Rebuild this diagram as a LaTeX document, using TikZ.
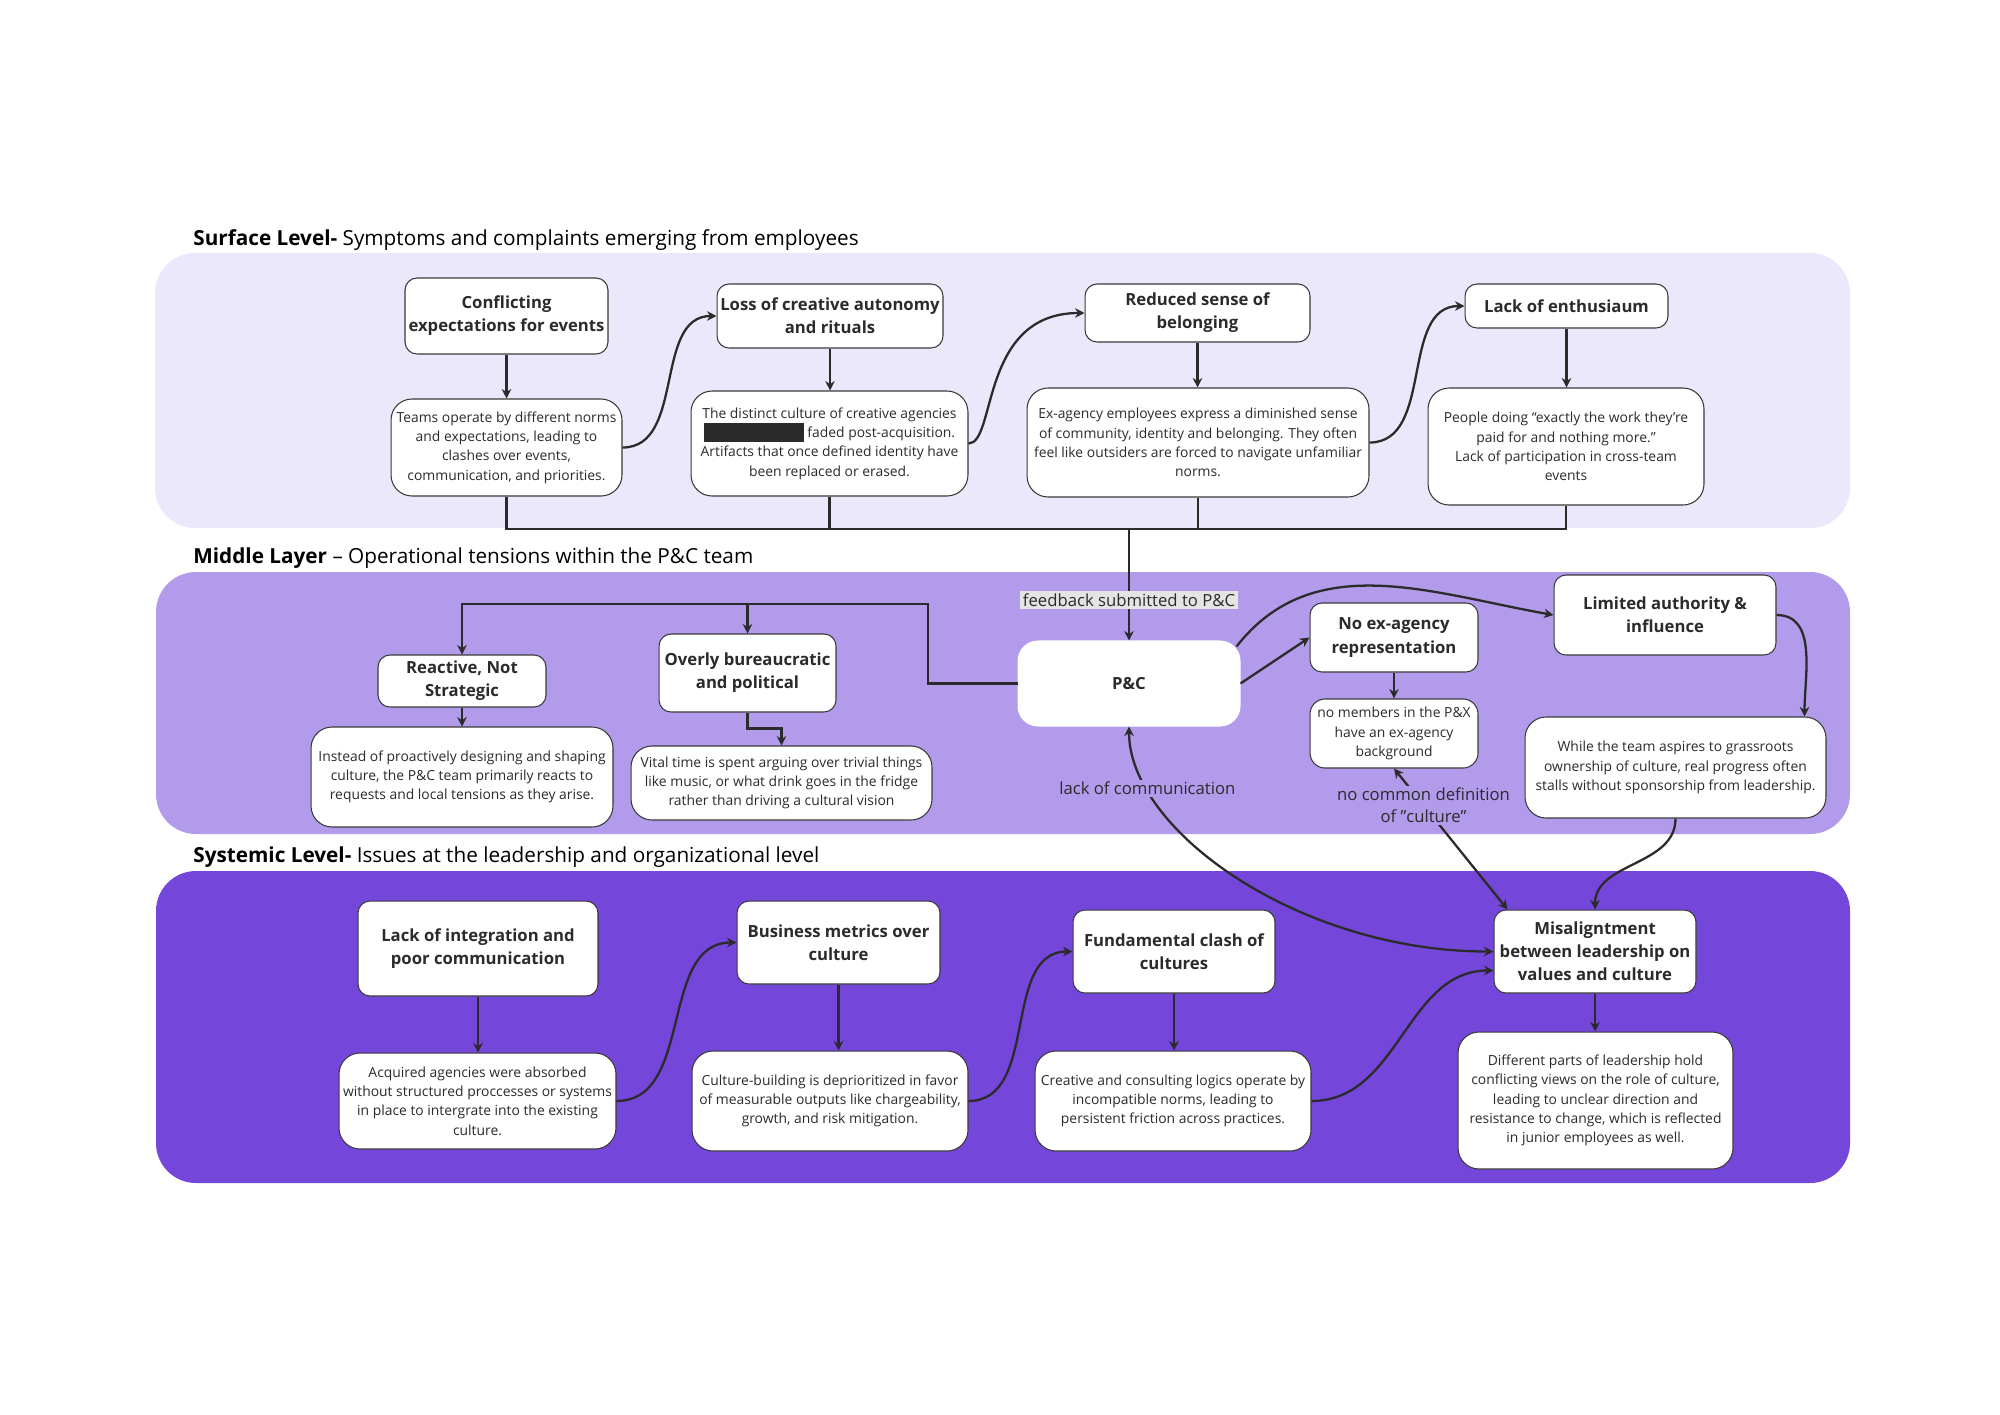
\documentclass[tikz,border=0pt]{standalone}
\usepackage{fontspec}
\setmainfont{Open Sans}
\usetikzlibrary{arrows.meta}
\definecolor{surf}{HTML}{ECE8FB}
\definecolor{mid}{HTML}{B19BEA}
\definecolor{sys}{HTML}{7546DA}
\definecolor{ink}{HTML}{2B2B2B}
\definecolor{edge}{HTML}{3A3A3A}
\definecolor{fbgray}{HTML}{E4E4E4}
\tikzset{
  sz/.style 2 args={minimum width=#1cm, minimum height=#2cm},
  head/.style={draw=edge, line width=0.6pt, fill=white, rounded corners=0.24cm, align=center, inner sep=1pt, text=ink, font=\bfseries\fontsize{9.5}{13.2}\selectfont},
  body/.style={draw=edge, line width=0.6pt, fill=white, rounded corners=0.42cm, align=center, inner sep=1pt, text=ink, font=\fontsize{7.9}{11}\selectfont},
  link/.style={draw=ink, line width=1.3pt, -{Stealth[length=1.9mm, width=1.9mm]}},
  twoway/.style={link, {Stealth[length=1.9mm, width=1.9mm]}-{Stealth[length=1.9mm, width=1.9mm]}},
  wire/.style={draw=ink, line width=1.3pt},
  layer/.style={rounded corners=0.8cm},
  heading/.style={anchor=base west, inner sep=0pt, text=black, font=\fontsize{11.8}{14}\selectfont},
  note/.style={align=center, inner sep=1pt, text=ink, font=\fontsize{9.5}{12.8}\selectfont}
}
\newcommand{\redact}{\textcolor{ink}{\rule[-0.3em]{2cm}{0.38cm}}}

\begin{document}
\begin{tikzpicture}[x=0.02cm, y=-0.02cm]
  \useasboundingbox (0,0) rectangle (2000,1414);
  \fill[surf, layer] (155,253) rectangle (1850,528);
  \fill[mid, layer] (156,572) rectangle (1850,834);
  \fill[sys, layer] (156,871) rectangle (1850,1183);
  \node[heading] (surftitle) at (193,245) {\textbf{Surface Level-} Symptoms and complaints emerging from employees};
  \node[heading] (midtitle) at (193,563) {\textbf{Middle Layer} – Operational tensions within the P\&C team};
  \node[heading] (systitle) at (193,862) {\textbf{Systemic Level-} Issues at the leadership and organizational level};

  \node[head, sz={4.06}{1.52}] (a1) at (506.5,316) {Conflicting\\expectations for events};
  \node[body, sz={4.62}{1.94}] (a2) at (506.5,447.5) {Teams operate by different norms\\and expectations, leading to\\clashes over events,\\communication, and priorities.};
  \node[head, sz={4.52}{1.28}] (b1) at (830,316) {Loss of creative autonomy\\and rituals};
  \node[body, sz={5.54}{2.1}] (b2) at (829.5,443.5) {The distinct culture of creative agencies\\\redact\ faded post-acquisition.\\Artifacts that once defined identity have\\been replaced or erased.};
  \node[head, sz={4.5}{1.16}] (c1) at (1197.5,313) {Reduced sense of\\belonging};
  \node[body, sz={6.84}{2.18}] (c2) at (1198,442.5) {Ex-agency employees express a diminished sense\\of community, identity and belonging. They often\\feel like outsiders are forced to navigate unfamiliar\\norms.};
  \node[head, sz={4.06}{0.88}] (d1) at (1566.5,306) {Lack of enthusiaum};
  \node[body, sz={5.52}{2.34}] (d2) at (1566,446.5) {People doing “exactly the work they’re\\paid for and nothing more.”\\Lack of participation in cross-team\\events};

  \node[head, draw=white, rounded corners=0.4cm, sz={4.44}{1.7}] (pc) at (1129,683.5) {P\&C};
  \node[head, sz={3.36}{1.04}] (r1) at (462,681) {Reactive, Not\\Strategic};
  \node[body, sz={6.04}{2.0}] (r2) at (462,777) {Instead of proactively designing and shaping\\culture, the P\&C team primarily reacts to\\requests and local tensions as they arise.};
  \node[head, sz={3.54}{1.56}] (o1) at (747.5,673) {Overly bureaucratic\\and political};
  \node[body, sz={6.02}{1.48}] (o2) at (781.5,783) {Vital time is spent arguing over trivial things\\like music, or what drink goes in the fridge\\rather than driving a cultural vision};
  \node[head, sz={3.36}{1.38}] (n1) at (1394,637.5) {No ex-agency\\representation};
  \node[body, rounded corners=0.3cm, sz={3.36}{1.38}] (n2) at (1394,733.5) {no members in the P\&X\\have an ex-agency\\background};
  \node[head, sz={4.44}{1.6}] (l1) at (1665,615) {Limited authority \&\\influence};
  \node[body, sz={6.02}{2.02}] (l2) at (1675.5,767.5) {While the team aspires to grassroots\\ownership of culture, real progress often\\stalls without sponsorship from leadership.};

  \node[head, sz={4.8}{1.9}] (s1) at (478,948.5) {Lack of integration and\\poor communication};
  \node[body, sz={5.54}{1.92}] (s2) at (477.5,1101) {Acquired agencies were absorbed\\without structured proccesses or systems\\in place to intergrate into the existing\\culture.};
  \node[head, sz={4.06}{1.66}] (t1) at (838.5,942.5) {Business metrics over\\culture};
  \node[body, sz={5.52}{2.0}] (t2) at (830,1101) {Culture-building is deprioritized in favor\\of measurable outputs like chargeability,\\growth, and risk mitigation.};
  \node[head, sz={4.04}{1.66}] (u1) at (1174,951.5) {Fundamental clash of\\cultures};
  \node[body, sz={5.52}{2.0}] (u2) at (1173,1101) {Creative and consulting logics operate by\\incompatible norms, leading to\\persistent friction across practices.};
  \node[head, sz={4.04}{1.66}] (m1) at (1595,951.5) {Misaligntment\\between leadership on\\values and culture};
  \node[body, sz={5.5}{2.74}] (m2) at (1595.5,1100.5) {Different parts of leadership hold\\conflicting views on the role of culture,\\leading to unclear direction and\\resistance to change, which is reflected\\in junior employees as well.};

  \foreach \u/\v in {a1/a2,b1/b2,c1/c2,d1/d2,r1/r2,n1/n2,s1/s2,t1/t2,u1/u2,m1/m2}
    \draw[link] (\u.south) -- (\u.south |- \v.north);
  \draw[link] (a2.east) to[out=0,in=180] (b1.west);
  \draw[link] (b2.east) .. controls +(28,0) and +(-105,0) .. (c1.west);
  \draw[link] (c2.east) to[out=0,in=180] (d1.west);
  \draw[link] (s2.east) to[out=0,in=180] (t1.west);
  \draw[link] (t2.east) to[out=0,in=180] (u1.west);
  \draw[link] (u2.east) to[out=0,in=180] ([yshift=-0.38cm]m1.west);

  \coordinate (bus) at (1129,529);
  \draw[wire] (a2.south) |- (bus) -| (d2.south);
  \draw[wire] (b2.south) -- (b2.south |- bus);
  \draw[wire] (c2.south) -- (c2.south |- bus);
  \draw[link] (bus) -- node[pos=0.64, note, fill=fbgray, inner sep=1.5pt] {feedback submitted to P\&C} (pc.north);

  \coordinate (tee) at (928,604);
  \draw[link] (pc.west) -| (tee) -| (r1.north);
  \draw[link] (o1.north |- tee) -- (o1.north);
  \draw[link] (o1.south) -- ++(0,16) -| (o2.north);
  \draw[link] (pc.east) -- (n1.west);
  \draw[link] ([xshift=-0.08cm,yshift=-0.12cm]pc.north east) to[out=52,in=170] (l1.west);
  \draw[link] (l1.east) to[out=0,in=90] ([xshift=-0.44cm]l2.north east);
  \draw[link] (l2.south) to[out=-90,in=90] (m1.north);
  \draw[twoway] (pc.south) .. controls +(0,104) and +(-194,0) .. (m1.west) node[pos=0.195, note, fill=mid] {lack of communication};
  \draw[twoway] (n2.south) -- ([xshift=0.28cm]m1.north west) node[pos=0.26, note, fill=mid] {no common definition\\of \char34 culture\char34};
\end{tikzpicture}
\end{document}
